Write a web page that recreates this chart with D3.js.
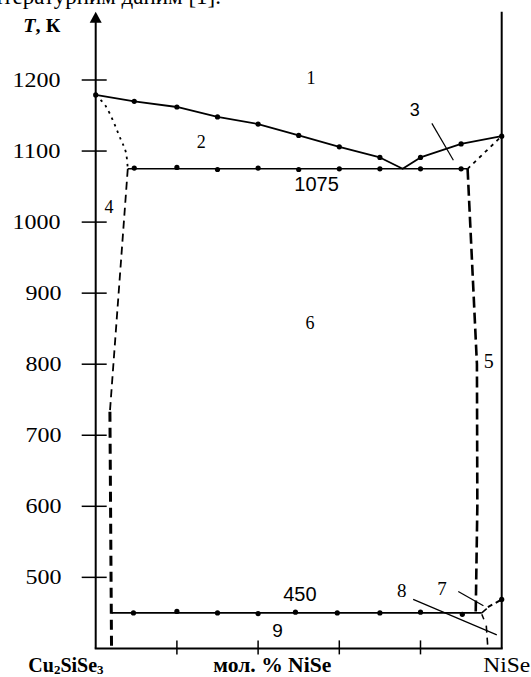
<!DOCTYPE html>
<html>
<head>
<meta charset="utf-8">
<script src="https://cdn.jsdelivr.net/npm/d3@7"></script>
<style>
  html, body { margin: 0; padding: 0; background: #fff; }
  svg { display: block; }
</style>
</head>
<body>
<svg id="chart" width="531" height="677"></svg>
<script>
// Phase diagram of the Cu2SiSe3 – NiSe system (composition in mol. % NiSe, temperature in K)

const SERIF = "'Liberation Serif', 'Times New Roman', serif";
const SANS = "'Liberation Sans', Arial, sans-serif";

// Axis ticks
const tempTicks = [500, 600, 700, 800, 900, 1000, 1100, 1200];
const compTicks = [20, 40, 60, 80];

// Liquidus (experimental points, eutectic minimum at index 8)
const liquidusX = [0, 9.5, 20, 30, 40, 50, 60, 70, 75.6, 80, 90, 100];
const liquidusT = [1179, 1170, 1162, 1148, 1138, 1122, 1106, 1091, 1075, 1091, 1110, 1121];
const liquidusHasPoint = [1, 1, 1, 1, 1, 1, 1, 1, 0, 1, 1, 1];

// Eutectic horizontal at 1075 K
const eutecticT = 1075;
const eutecticSpan = [7.9, 91.6];
const eutecticPtsX = [9.5, 20, 30, 40, 50, 60, 70, 80, 90];
const eutecticPtsT = [1076, 1077, 1074, 1076, 1074, 1075, 1075, 1075, 1075];

// Horizontal at 450 K
const lowT = 450;
const lowSpan = [3.9, 95.1];
const lowPtsX = [9.3, 20, 30, 40, 49.2, 59.5, 70, 80, 90.3];
const lowPtsT = [450, 452, 450, 449, 451, 450, 450, 451, 448];

// NiSe transition point
const niseLowX = [100];
const niseLowT = [469];

// Dotted boundaries near the melting points
const leftDottedX = [0, 2.5, 6.2, 7.4, 7.9];
const leftDottedT = [1179, 1163, 1116, 1099, 1075];
const rightDottedX = [91.6, 100];
const rightDottedT = [1075, 1121];

// Solubility boundary on the Cu2SiSe3 side (upper thin part, lower heavy part)
const leftUpperX = [7.9, 3.5];
const leftUpperT = [1075, 733];
const leftLowerX = [3.5, 3.9];
const leftLowerT = [733, 400];

// Solubility boundary on the NiSe side
const rightBoundX = [91.6, 93.9, 94.0, 93.6];
const rightBoundT = [1075, 800, 600, 450];

// Short boundaries near NiSe below 470 K
const lowRightX = [96.2, 96.6];
const lowRightT = [432, 400];
const toNiseX = [96.6, 100];
const toNiseT = [458, 469];
const forkUpX = [95.1, 96.3];
const forkUpT = [450, 456];
const forkDownX = [95.1, 95.6];
const forkDownT = [448, 441];

// Leader lines for region numbers
const leaders = [
  { x: [82.8, 88.1], t: [1139, 1087] },   // 3
  { x: [89.3, 95.5], t: [480, 460] },     // 7
  { x: [78.2, 98.8], t: [469, 419] }      // 8
];

// Region labels
const regionText = ["1", "2", "3", "4", "5", "6", "7", "8", "9", "1075", "450"];
const regionX    = [53.0, 26.0, 78.6, 3.3, 96.8, 52.8, 85.3, 75.4, 44.8, 54.4, 50.3];
const regionT    = [1203, 1113, 1158, 1021, 805, 859, 485, 481, 425, 1053, 476];
const regionFont = ["serif", "serif", "sans", "serif", "serif", "serif", "serif", "serif", "sans", "sans", "sans"];
const regionSize = [18, 18, 18, 18, 20, 18, 19, 19, 19, 20, 20];

const svg = d3.select("#chart");

const x = d3.scaleLinear().domain([0, 100]).range([95.7, 501.7]);
const y = d3.scaleLinear().domain([400, 1200]).range([648.4, 80]);

const lineGen = d3.line().x(d => x(d[0])).y(d => y(d[1]));
const zip = (a, b) => a.map((v, i) => [v, b[i]]);

function drawLine(xs, ts, width, dash, curve) {
  const g = curve ? d3.line().x(d => x(d[0])).y(d => y(d[1])).curve(curve) : lineGen;
  svg.append("path")
    .attr("d", g(zip(xs, ts)))
    .attr("fill", "none")
    .attr("stroke", "#000")
    .attr("stroke-width", width)
    .attr("stroke-dasharray", dash || null)
    .attr("stroke-linejoin", "round");
}

function drawPoints(xs, ts) {
  svg.append("g").selectAll("circle")
    .data(zip(xs, ts))
    .join("circle")
    .attr("cx", d => x(d[0]))
    .attr("cy", d => y(d[1]))
    .attr("r", 2.6)
    .attr("fill", "#000");
}

// Header text line (continues above the frame)
svg.append("text")
  .attr("font-family", SERIF)
  .attr("x", 221).attr("y", 4)
  .attr("text-anchor", "end")
  .attr("font-size", 23)
  .text("за літературним даним [1].");

// Temperature axis with arrow
const yTop = 1296;
svg.append("line")
  .attr("x1", x(0)).attr("x2", x(0))
  .attr("y1", y(400)).attr("y2", y(yTop) + 8)
  .attr("stroke", "#000").attr("stroke-width", 2);
svg.append("path")
  .attr("d", `M${x(0)},${y(yTop)} L${x(0) - 6},${y(yTop) + 11} L${x(0) + 6},${y(yTop) + 11} Z`)
  .attr("fill", "#000");

// Right edge (pure NiSe)
svg.append("line")
  .attr("x1", x(100)).attr("x2", x(100))
  .attr("y1", y(400)).attr("y2", y(yTop))
  .attr("stroke", "#000").attr("stroke-width", 2);

// Composition axis
svg.append("line")
  .attr("x1", x(0) - 1).attr("x2", x(100) + 1)
  .attr("y1", y(400)).attr("y2", y(400))
  .attr("stroke", "#000").attr("stroke-width", 2);

// Temperature ticks and labels
svg.append("g").selectAll("line")
  .data(tempTicks).join("line")
  .attr("x1", x(0) - 14).attr("x2", x(0) + 11)
  .attr("y1", d => y(d)).attr("y2", d => y(d))
  .attr("stroke", "#000").attr("stroke-width", 1.5);
svg.append("g").selectAll("text")
  .data(tempTicks).join("text")
  .attr("font-family", SERIF)
  .attr("x", d => String(d).length === 4 ? 12.5 : 25.5)
  .attr("y", d => y(d) + 7)
  .attr("font-size", 21)
  .attr("textLength", d => String(d).length === 4 ? 48 : 36)
  .attr("lengthAdjust", "spacingAndGlyphs")
  .text(d => d);

// Composition ticks
svg.append("g").selectAll("line")
  .data(compTicks).join("line")
  .attr("x1", d => x(d)).attr("x2", d => x(d))
  .attr("y1", y(400) - 8).attr("y2", y(400) + 6)
  .attr("stroke", "#000").attr("stroke-width", 1.5);

// Axis titles
const tLabel = svg.append("text")
  .attr("font-family", SERIF)
  .attr("x", 23.3).attr("y", 31.7)
  .attr("font-size", 18)
  .attr("font-weight", "bold")
  .attr("textLength", 37)
  .attr("lengthAdjust", "spacingAndGlyphs");
tLabel.append("tspan").attr("font-style", "italic").text("T");
tLabel.append("tspan").text(", К");

const cu = svg.append("text")
  .attr("font-family", SERIF)
  .attr("x", 28.3).attr("y", 671.5)
  .attr("font-size", 20)
  .attr("font-weight", "bold");
cu.append("tspan").text("Cu");
cu.append("tspan").attr("font-size", 13).attr("dy", 2.5).text("2");
cu.append("tspan").attr("dy", -2.5).text("SiSe");
cu.append("tspan").attr("font-size", 13).attr("dy", 2.5).text("3");

svg.append("text")
  .attr("font-family", SERIF)
  .attr("x", 213.3).attr("y", 672)
  .attr("font-size", 20)
  .attr("font-weight", "bold")
  .attr("textLength", 118)
  .attr("lengthAdjust", "spacingAndGlyphs")
  .text("мол. % NiSe");

svg.append("text")
  .attr("font-family", SERIF)
  .attr("x", 483.3).attr("y", 672)
  .attr("font-size", 21)
  .attr("textLength", 47)
  .attr("lengthAdjust", "spacingAndGlyphs")
  .text("NiSe");

// Liquidus
drawLine(liquidusX, liquidusT, 1.8);
drawPoints(liquidusX.filter((_, i) => liquidusHasPoint[i]), liquidusT.filter((_, i) => liquidusHasPoint[i]));

// Eutectic line at 1075 K
drawLine(eutecticSpan, [eutecticT, eutecticT], 1.6);
drawPoints(eutecticPtsX, eutecticPtsT);

// Line at 450 K
drawLine(lowSpan, [lowT, lowT], 1.6);
drawPoints(lowPtsX, lowPtsT);
drawPoints(niseLowX, niseLowT);

// Dotted boundaries
drawLine(leftDottedX, leftDottedT, 1.8, "2.5,4.5", d3.curveCatmullRom);
drawLine(rightDottedX, rightDottedT, 1.8, "3.5,4.5");

// Dashed solubility boundaries
drawLine(leftUpperX, leftUpperT, 1.8, "8,5");
drawLine(leftLowerX, leftLowerT, 3, "10,6");
drawLine(rightBoundX, rightBoundT, 2.6, "11,5");
drawLine(lowRightX, lowRightT, 1.6, "7,5");
drawLine(toNiseX, toNiseT, 2, "5,4");
drawLine(forkUpX, forkUpT, 1.5);
drawLine(forkDownX, forkDownT, 1.5);

// Leader lines
leaders.forEach(l => drawLine(l.x, l.t, 1.2));

// Region numbers and values
svg.append("g").selectAll("text")
  .data(regionText.map((t, i) => ({ t, x: regionX[i], v: regionT[i], f: regionFont[i], s: regionSize[i] })))
  .join("text")
  .attr("font-family", d => d.f === "serif" ? SERIF : SANS)
  .attr("x", d => x(d.x))
  .attr("y", d => y(d.v))
  .attr("dy", "0.35em")
  .attr("text-anchor", "middle")
  .attr("font-size", d => d.s)
  .text(d => d.t);
</script>
</body>
</html>
